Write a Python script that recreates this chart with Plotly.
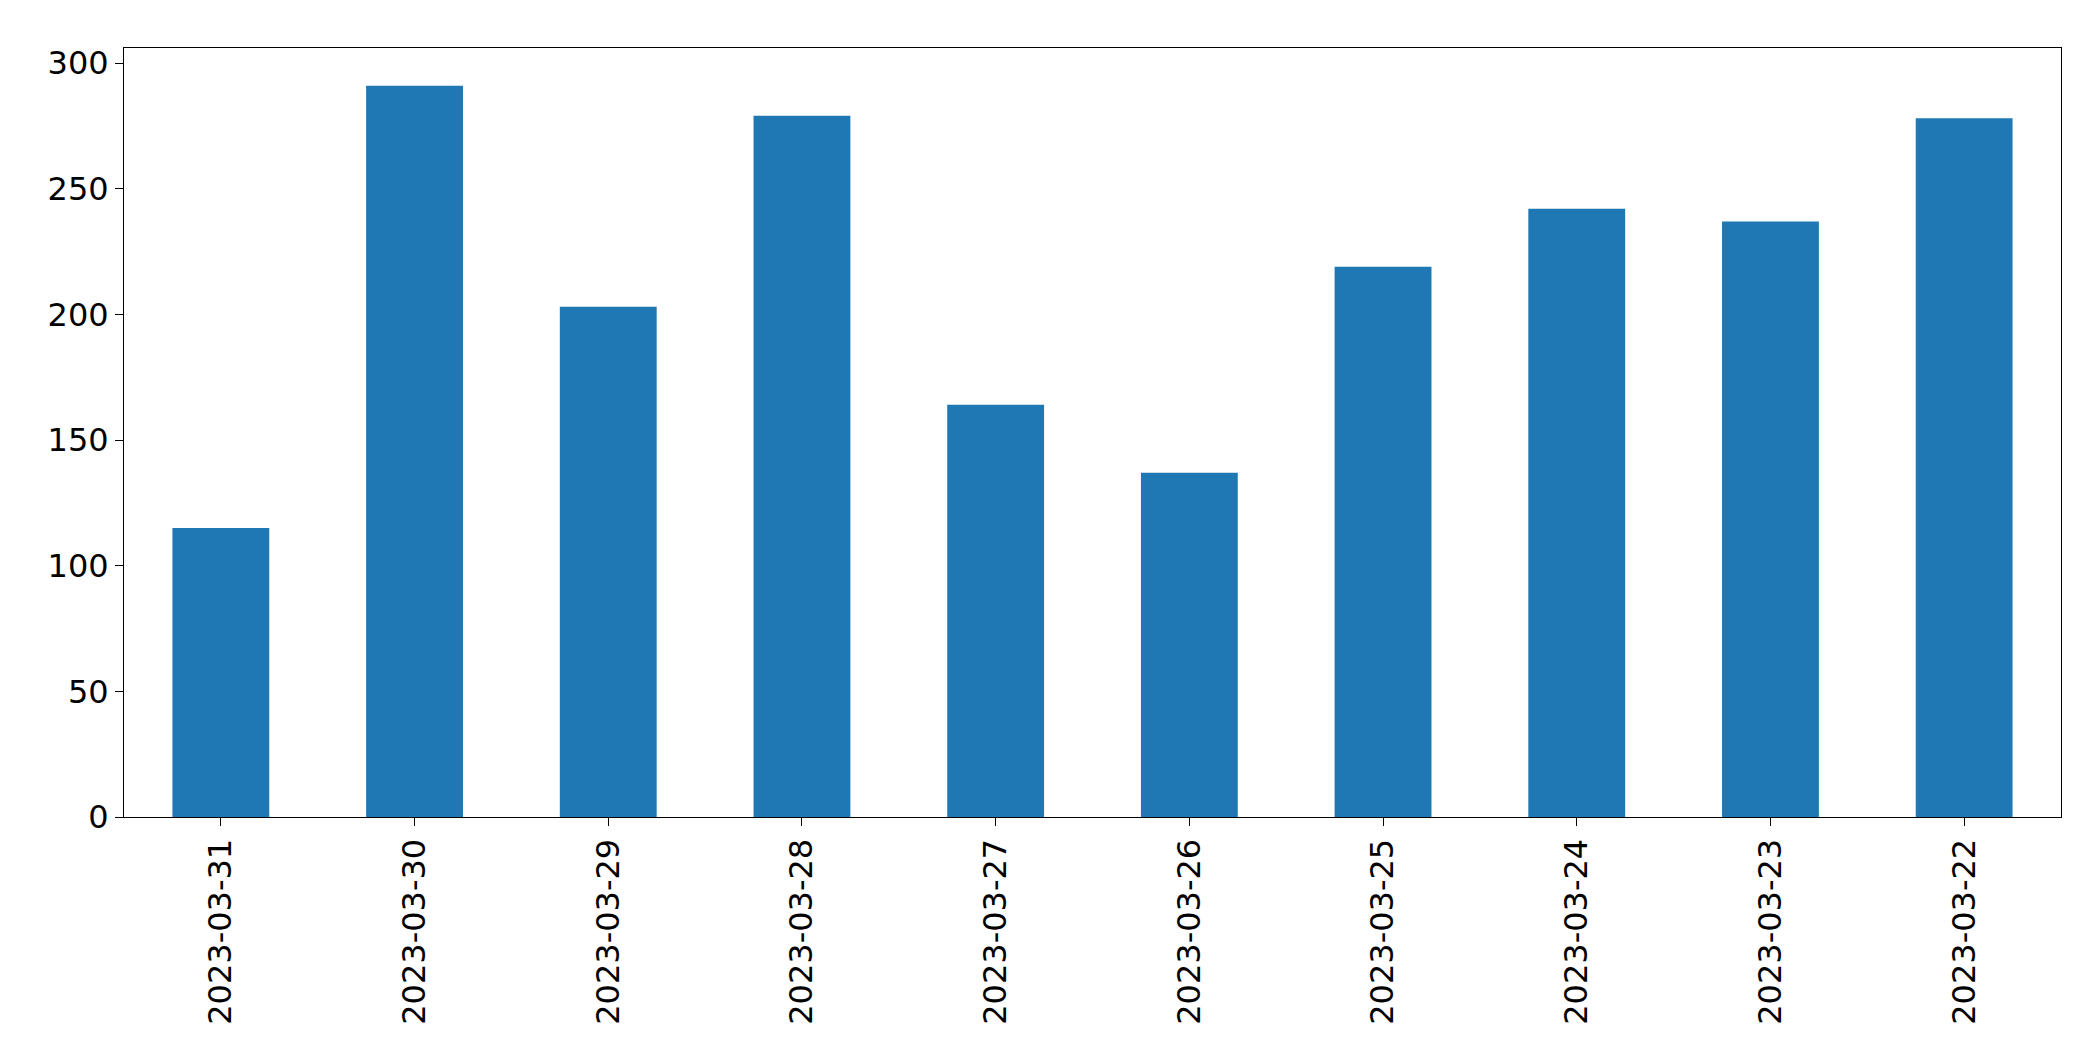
import plotly.graph_objects as go

dates = ["2023-03-31", "2023-03-30", "2023-03-29", "2023-03-28", "2023-03-27",
         "2023-03-26", "2023-03-25", "2023-03-24", "2023-03-23", "2023-03-22"]
counts = [115, 291, 203, 279, 164, 137, 219, 242, 237, 278]

fig = go.Figure(go.Bar(x=dates, y=counts, width=0.5, marker=dict(color="#1f77b4", line=dict(width=0))))

fig.update_layout(
    width=2093,
    height=1061,
    margin=dict(l=116, r=40, t=40, b=252),
    plot_bgcolor="white",
    paper_bgcolor="white",
    showlegend=False,
    font=dict(family="DejaVu Sans", size=32, color="black"),
)
fig.update_xaxes(type="category", range=[-0.5, 9.5], tickangle=-90,
                 showline=True, linecolor="black", linewidth=1, mirror=True,
                 ticks="outside", ticklen=8, tickcolor="black", showgrid=False)
fig.update_yaxes(range=[0, 306], tickvals=[0, 50, 100, 150, 200, 250, 300],
                 showline=True, linecolor="black", linewidth=1, mirror=True,
                 ticks="outside", ticklen=8, tickcolor="black", showgrid=False, zeroline=False)

fig.write_html("out.html")
